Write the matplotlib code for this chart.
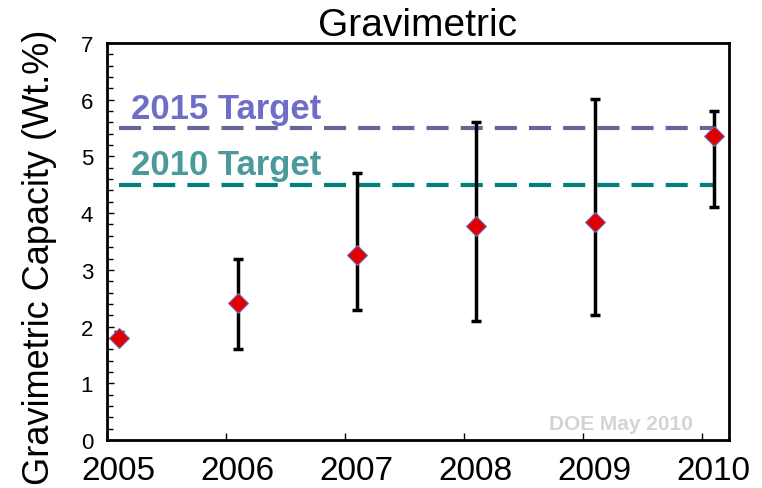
import matplotlib.pyplot as plt
from matplotlib.ticker import MultipleLocator

plt.rcParams['font.family'] = ['Liberation Sans', 'DejaVu Sans']

years = [2005, 2006, 2007, 2008, 2009, 2010]
capacity = [1.8, 2.42, 3.27, 3.78, 3.84, 5.36]
lowValues = [1.75, 1.6, 2.3, 2.1, 2.2, 4.1]
highValues = [1.9, 3.2, 4.7, 5.6, 6.02, 5.8]
targetNames = ['2015 Target', '2010 Target']
targetValues = [5.5, 4.5]
targetLineColors = ['#66669a', '#00807c']
targetTextColors = ['#6e6ec8', '#4a9a9c']

offset = 0.1
xPos = [y + offset for y in years]
errLow = [c - lo for c, lo in zip(capacity, lowValues)]
errHigh = [hi - c for c, hi in zip(capacity, highValues)]

fig = plt.figure(figsize=(7.62, 4.89), dpi=100)
ax = fig.add_axes([0.1404, 0.0982, 0.8163, 0.8118])

for value, name, lineColor, textColor in zip(targetValues, targetNames, targetLineColors, targetTextColors):
    line, = ax.plot([xPos[0], xPos[-1]], [value, value], color=lineColor, lw=3, zorder=1)
    line.set_dashes((5.3, 2.9))
    ax.text(xPos[0] + 0.1, value + 0.06, name, color=textColor, fontsize=25,
            fontweight='bold', ha='left', va='bottom')

ax.errorbar(xPos, capacity, yerr=[errLow, errHigh], fmt='none', ecolor='black',
            elinewidth=2.5, capsize=3.5, capthick=2.5, zorder=2)
ax.plot(xPos, capacity, linestyle='', marker='D', markersize=10, markerfacecolor='#e00000',
        markeredgecolor='#7070c0', markeredgewidth=0.8, zorder=3)

ax.text(2009.32, 0.12, 'DOE May 2010', color='#d4d4d4', fontsize=15, fontweight='bold',
        ha='center', va='bottom')

ax.set_xlim(2005, 2010.23)
ax.set_ylim(0, 7)
ax.set_xticks(years)
ax.set_xticklabels([])
ax.set_xticks(xPos, minor=True)
ax.set_xticklabels([str(y) for y in years], minor=True, fontsize=24)
ax.tick_params(axis='x', which='major', direction='in', length=5, width=1, top=False)
ax.tick_params(axis='x', which='minor', length=0, pad=11)

ax.yaxis.set_major_locator(MultipleLocator(1))
ax.yaxis.set_minor_locator(MultipleLocator(0.2))
ax.tick_params(axis='y', which='major', direction='in', length=5, width=1, labelsize=16, pad=10)
ax.tick_params(axis='y', which='minor', direction='in', length=4, width=1)

for spine in ax.spines.values():
    spine.set_linewidth(2)

ax.set_title('Gravimetric', fontsize=28, pad=4)
ax.set_ylabel('Gravimetric Capacity (Wt.%)', fontsize=26)
ax.yaxis.set_label_coords(-0.08, 0.4635)

fig.savefig('out.png', dpi=100)
